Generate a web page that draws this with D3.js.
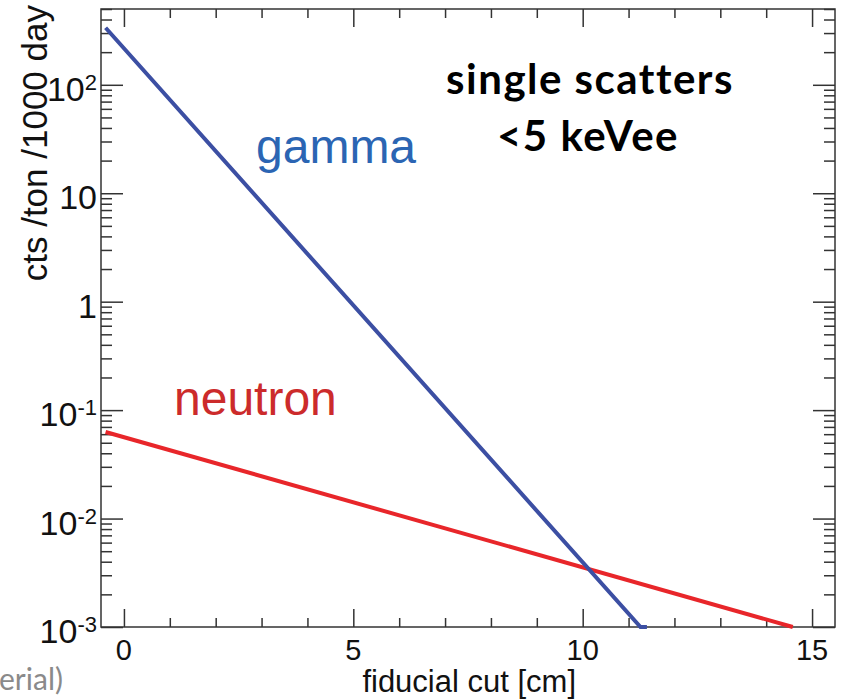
<!DOCTYPE html>
<html>
<head>
<meta charset="utf-8">
<script src="https://cdn.jsdelivr.net/npm/d3@7"></script>
<style>
  body { margin: 0; background: #fff; }
  svg { display: block; }
</style>
</head>
<body>
<svg width="845" height="700"></svg>
<script>
// fiducial cut [cm] vs rate, straight lines on a log axis
const gammaX = [-0.4, 11.26, 11.4];
const gammaY = [336, 0.001, 0.001];
const neutronX = [-0.4, 14.58];
const neutronY = [0.0628, 0.001];

const xTickValues = [0, 5, 10, 15];
const xTickLabels = ["0", "5", "10", "15"];
const yTickValues = [1e-3, 1e-2, 1e-1, 1, 10, 100];
const yTickBase = ["10", "10", "10", "1", "10", "10"];
const yTickExp = ["-3", "-2", "-1", "", "", "2"];

const svg = d3.select("svg");
const frame = ({left: 101, right: 835, top: 9, bottom: 627});
const axisColor = "#333";
const labelFont = "'Liberation Sans', Arial, sans-serif";

const x = d3.scaleLinear()
    .domain([-0.5, 15.5])
    .range([frame.left, frame.right]);
const y = d3.scaleLog()
    .domain([1e-3, 500])
    .range([frame.bottom, frame.top]);

const yMinor = y.ticks().filter(v => !yTickValues.includes(v) && v <= 500);
const xMinor = x.ticks(16).filter(v => !xTickValues.includes(v));

// ticks: all pointing into the frame
function tickGroup(axis, transform) {
  const g = svg.append("g")
      .attr("transform", transform)
      .call(axis);
  g.select(".domain").remove();
  g.selectAll("text").remove();
  g.selectAll("line").attr("stroke", axisColor).attr("stroke-width", 1.5);
  return g;
}

tickGroup(d3.axisLeft(y).tickValues(yTickValues).tickSize(-22), `translate(${frame.left},0)`);
tickGroup(d3.axisLeft(y).tickValues(yMinor).tickSize(-11), `translate(${frame.left},0)`);
tickGroup(d3.axisRight(y).tickValues(yTickValues).tickSize(-22), `translate(${frame.right},0)`);
tickGroup(d3.axisRight(y).tickValues(yMinor).tickSize(-11), `translate(${frame.right},0)`);
tickGroup(d3.axisBottom(x).tickValues(xTickValues).tickSize(-18), `translate(0,${frame.bottom})`);
tickGroup(d3.axisBottom(x).tickValues(xMinor).tickSize(-9), `translate(0,${frame.bottom})`);
tickGroup(d3.axisTop(x).tickValues(xTickValues).tickSize(-18), `translate(0,${frame.top})`);
tickGroup(d3.axisTop(x).tickValues(xMinor).tickSize(-9), `translate(0,${frame.top})`);

svg.append("rect")
    .attr("x", frame.left)
    .attr("y", frame.top)
    .attr("width", frame.right - frame.left)
    .attr("height", frame.bottom - frame.top)
    .attr("fill", "none")
    .attr("stroke", axisColor)
    .attr("stroke-width", 1.5);

// y tick labels with superscripts
const yLab = svg.append("g")
    .attr("font-family", labelFont)
    .attr("fill", "#111")
  .selectAll("text")
  .data(yTickValues)
  .join("text")
    .attr("x", 97)
    .attr("y", d => y(d) + 16)
    .attr("text-anchor", "end");
yLab.append("tspan")
    .attr("font-size", 34)
    .text((d, i) => yTickBase[i]);
yLab.append("tspan")
    .attr("font-size", 22)
    .attr("dy", (d, i) => yTickExp[i] ? -11 : 0)
    .text((d, i) => yTickExp[i]);

svg.append("g")
    .attr("font-family", labelFont)
    .attr("font-size", 29)
    .attr("fill", "#111")
  .selectAll("text")
  .data(xTickValues)
  .join("text")
    .attr("x", d => x(d))
    .attr("y", 660)
    .attr("text-anchor", "middle")
    .text((d, i) => xTickLabels[i]);

// axis titles
svg.append("text")
    .attr("transform", "translate(47,5) rotate(-90)")
    .attr("text-anchor", "end")
    .attr("font-family", labelFont)
    .attr("font-size", 35)
    .attr("fill", "#111")
    .text("cts /ton /1000 day");

svg.append("text")
    .attr("x", 576)
    .attr("y", 692)
    .attr("text-anchor", "end")
    .attr("font-family", labelFont)
    .attr("font-size", 31)
    .attr("fill", "#111")
    .text("fiducial cut [cm]");

// curves
const line = d3.line()
    .x(d => x(d[0]))
    .y(d => y(d[1]));

svg.append("path")
    .datum(d3.zip(neutronX, neutronY))
    .attr("d", line)
    .attr("fill", "none")
    .attr("stroke", "#e8262a")
    .attr("stroke-width", 4);

svg.append("path")
    .datum(d3.zip(gammaX, gammaY))
    .attr("d", line)
    .attr("fill", "none")
    .attr("stroke", "#3c4fa3")
    .attr("stroke-width", 4);

// annotations
svg.append("text")
    .attr("x", 256)
    .attr("y", 163)
    .attr("font-family", labelFont)
    .attr("font-size", 48)
    .attr("fill", "#2b65b3")
    .text("gamma");

svg.append("text")
    .attr("x", 174)
    .attr("y", 415)
    .attr("font-family", labelFont)
    .attr("font-size", 48)
    .attr("fill", "#cc2b2b")
    .text("neutron");

const note = svg.append("text")
    .attr("text-anchor", "middle")
    .attr("font-family", "Lato, 'Open Sans', sans-serif")
    .attr("font-weight", "bold")
    .attr("font-size", 42)
    .attr("letter-spacing", 1.5)
    .attr("fill", "#000");
note.append("tspan").attr("x", 590).attr("y", 94).text("single scatters");
note.append("tspan").attr("x", 588).attr("y", 151).text("<5 keVee");

svg.append("text")
    .attr("x", 63)
    .attr("y", 690)
    .attr("text-anchor", "end")
    .attr("font-family", "Lato, 'Open Sans', sans-serif")
    .attr("font-size", 30)
    .attr("fill", "#8a8a8a")
    .text("erial)");
</script>
</body>
</html>
